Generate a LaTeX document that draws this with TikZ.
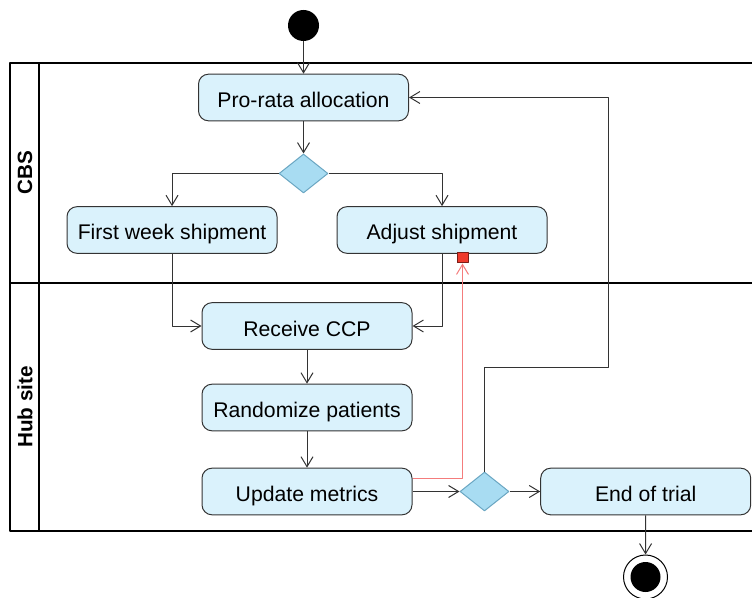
\documentclass[tikz,border=0pt]{standalone}
\usepackage{fontspec}
\setmainfont{Liberation Sans}
\usetikzlibrary{shapes.geometric,arrows.meta}
\definecolor{actfill}{HTML}{DAF2FC}
\definecolor{actline}{HTML}{333333}
\definecolor{choicefill}{HTML}{A8DCF2}
\definecolor{choiceline}{HTML}{6AA6C2}
\definecolor{flowline}{HTML}{333333}
\definecolor{pinfill}{HTML}{EE3A2C}
\definecolor{pinline}{HTML}{7A1E18}
\definecolor{redline}{HTML}{F47C7C}

\begin{document}
\begin{tikzpicture}[x=0.75pt, y=-0.75pt, line join=bevel,
  act/.style={draw=actline, fill=actfill, line width=0.75pt, rounded corners=7.5pt,
    minimum width=157.5pt, minimum height=35pt, inner sep=0pt,
    text height=15pt, text depth=0pt,
    font=\fontsize{15.9}{18}\selectfont},
  choice/.style={diamond, draw=choiceline, fill=choicefill, line width=0.75pt,
    minimum width=36.75pt, minimum height=29.25pt, inner sep=0pt},
  flow/.style={draw=flowline, line width=0.75pt, -{Straight Barb[length=7.5pt,width=9pt]}},
  lane/.style={line width=1.5pt},
  lanename/.style={rotate=90, font=\bfseries\fontsize{15.5}{18}\selectfont}]

\useasboundingbox (0,0) rectangle (752,598);

\draw[lane] (753,63) -| (9.5,531) -- (753,531);
\draw[lane] (39,63) -- (39,531);
\draw[lane] (9.5,283) -- (753,283);
\node[lanename] (cbs) at (25,173) {CBS};
\node[lanename] (hub) at (25,407) {Hub site};

\node[circle, fill=black, minimum size=23.25pt, inner sep=0pt] (start) at (303.5,25.5) {};
\node[act] (alloc) at (303.5,97.5) {Pro-rata allocation};
\node[choice] (dec1) at (303.5,173.5) {};
\node[act] (first) at (172,230) {First week shipment};
\node[act] (adjust) at (442,230) {Adjust shipment};
\node[draw=pinline, fill=pinfill, line width=0.75pt, minimum width=8.25pt, minimum height=7.5pt, inner sep=0pt] (pin) at (462.5,258) {};
\node[act] (receive) at (307,326) {Receive CCP};
\node[act] (rand) at (307,407.5) {Randomize patients};
\node[act] (update) at (307,491.5) {Update metrics};
\node[choice] (dec2) at (484.5,491.5) {};
\node[act] (endtrial) at (645.7,491.5) {End of trial};
\node[circle, draw=black, line width=0.75pt, minimum size=33pt, inner sep=0pt] (stop) at (645.5,577) {};
\fill (stop) circle (15);

\coordinate (loop) at (608,367);

\draw[flow] (start) -- (alloc);
\draw[flow] (alloc) -- (dec1);
\draw[flow] (dec1.west) -| (first.north);
\draw[flow] (dec1.east) -| (adjust.north);
\draw[flow] (first.south) |- (receive.west);
\draw[flow] (adjust.south) |- (receive.east);
\draw[flow] (receive) -- (rand);
\draw[flow] (rand) -- (update);
\draw[flow] (update) -- (dec2);
\draw[flow] (dec2) -- (endtrial);
\draw[flow] (dec2.north) |- (loop) |- (alloc.east);
\draw[flow] (endtrial) -- (stop);
\draw[flow, draw=redline] ([yshift=9.4pt]update.east) -| (pin.south);
\end{tikzpicture}
\end{document}
